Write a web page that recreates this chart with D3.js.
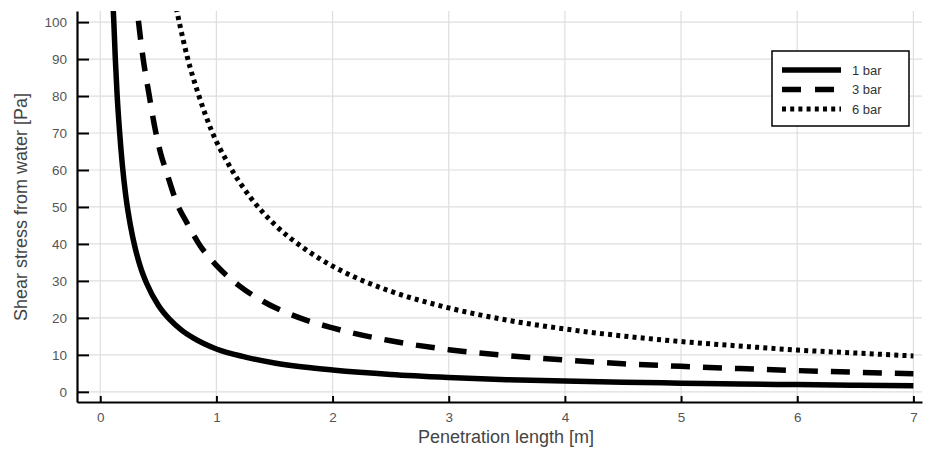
<!DOCTYPE html>
<html>
<head>
<meta charset="utf-8">
<script src="https://cdn.jsdelivr.net/npm/d3@7"></script>
<style>
    body { margin: 0; background: #fff; }
    #chart-area { width: 926px; height: 451px; }
    text { font-family: "Liberation Sans", Arial, Helvetica, sans-serif; }
</style>
</head>
<body>
<div id="chart-area"></div>
<script>

// ---- data ----
const pressures = ["1 bar", "3 bar", "6 bar"];

const length1 = [0.105, 0.117, 0.13, 0.145, 0.165, 0.19, 0.22, 0.26, 0.3, 0.35, 0.4, 0.5, 0.6, 0.7, 0.8, 1.0, 1.25, 1.5, 1.75, 2, 2.5, 3, 3.5, 4, 4.5, 5, 5.5, 6, 6.5, 7];
const stress1 = [108, 100, 90, 80.5, 71, 61.5, 53, 45, 39, 33.4, 29.3, 23.4, 19.5, 16.7, 14.6, 11.6, 9.4, 7.8, 6.7, 5.9, 4.7, 3.9, 3.3, 2.9, 2.6, 2.35, 2.1, 1.95, 1.8, 1.65];

const length3 = [0.3, 0.33, 0.37, 0.42, 0.47, 0.52, 0.57, 0.66, 0.75, 0.85, 1.0, 1.2, 1.4, 1.7, 2, 2.5, 3, 3.5, 4, 4.5, 5, 5.5, 6, 6.5, 7];
const stress3 = [109, 100, 90, 80.5, 71.5, 64.5, 59.5, 51, 45.5, 40, 34.2, 28.6, 24.5, 20.2, 17.3, 13.8, 11.4, 9.8, 8.6, 7.6, 6.9, 6.3, 5.75, 5.3, 4.9];

const length6 = [0.64, 0.68, 0.75, 0.85, 0.96, 1.1, 1.3, 1.5, 1.75, 2, 2.25, 2.5, 3, 3.5, 4, 4.5, 5, 5.5, 6, 6.5, 7];
const stress6 = [106, 100, 90.5, 80, 70.5, 61.8, 52.3, 45.3, 38.9, 34, 30.2, 27.2, 22.7, 19.4, 17, 15.1, 13.6, 12.4, 11.3, 10.5, 9.7];

const xTicks = [0, 1, 2, 3, 4, 5, 6, 7];
const yTicks = [0, 10, 20, 30, 40, 50, 60, 70, 80, 90, 100];

// line styles per series
const seriesStyle = [
    {width: 5.5, dash: null},
    {width: 5.5, dash: "19,13"},
    {width: 5, dash: "4,4.2"}
];

/* * * * * * * * * * * * * *
*       ShearStressVis     *
* * * * * * * * * * * * * */

class ShearStressVis {
    constructor(parentElement) {
        this.parentElement = parentElement;
        this.series = [
            length1.map((d, i) => ({x: d, y: stress1[i]})),
            length3.map((d, i) => ({x: d, y: stress3[i]})),
            length6.map((d, i) => ({x: d, y: stress6[i]}))
        ];
        this.initVis();
    }

    initVis() {
        let vis = this;

        vis.width = 926;
        vis.height = 451;
        vis.plot = {left: 77, right: 922, top: 11, bottom: 402};

        vis.svg = d3.select("#" + vis.parentElement).append("svg")
            .attr("width", vis.width)
            .attr("height", vis.height);

        // scales
        vis.x = d3.scaleLinear()
            .domain([-0.2, 7.074])
            .range([vis.plot.left, vis.plot.right]);

        vis.y = d3.scaleLinear()
            .domain([-2.75, 103])
            .range([vis.plot.bottom, vis.plot.top]);

        // grid
        vis.svg.append("g").selectAll("line.vgrid")
            .data(xTicks)
            .enter().append("line")
            .attr("x1", d => vis.x(d)).attr("x2", d => vis.x(d))
            .attr("y1", vis.plot.top).attr("y2", vis.plot.bottom)
            .attr("stroke", "#dedede")
            .attr("stroke-width", 1.2);

        vis.svg.append("g").selectAll("line.hgrid")
            .data(yTicks)
            .enter().append("line")
            .attr("x1", vis.plot.left).attr("x2", vis.plot.right)
            .attr("y1", d => vis.y(d)).attr("y2", d => vis.y(d))
            .attr("stroke", "#dedede")
            .attr("stroke-width", 1.2);

        // clip curves to plot area
        vis.svg.append("clipPath")
            .attr("id", "plot-clip")
            .append("rect")
            .attr("x", vis.plot.left)
            .attr("y", vis.plot.top)
            .attr("width", vis.plot.right - vis.plot.left)
            .attr("height", vis.plot.bottom - vis.plot.top);

        vis.line = d3.line()
            .x(d => vis.x(d.x))
            .y(d => vis.y(d.y))
            .curve(d3.curveMonotoneX);

        vis.svg.append("g")
            .attr("clip-path", "url(#plot-clip)")
            .selectAll("path")
            .data(vis.series)
            .enter().append("path")
            .attr("d", vis.line)
            .attr("fill", "none")
            .attr("stroke", "#000")
            .attr("stroke-width", (d, i) => seriesStyle[i].width)
            .attr("stroke-dasharray", (d, i) => seriesStyle[i].dash);

        // axes
        let xAxis = d3.axisBottom(vis.x)
            .tickValues(xTicks)
            .tickSize(-6)
            .tickSizeOuter(0)
            .tickPadding(10);

        let yAxis = d3.axisLeft(vis.y)
            .tickValues(yTicks)
            .tickSize(-12)
            .tickSizeOuter(0)
            .tickPadding(10);

        let gx = vis.svg.append("g")
            .attr("transform", `translate(0, ${vis.plot.bottom})`)
            .call(xAxis);

        let gy = vis.svg.append("g")
            .attr("transform", `translate(${vis.plot.left}, 0)`)
            .call(yAxis);

        [gx, gy].forEach(g => {
            g.select(".domain").attr("stroke", "#000").attr("stroke-width", 2.2);
            g.selectAll(".tick line").attr("stroke", "#000").attr("stroke-width", 2);
            g.selectAll(".tick text")
                .attr("fill", "#555")
                .style("font-size", "13.5px")
                .style("font-family", "'Liberation Sans', Arial, sans-serif");
        });

        // axis titles
        vis.svg.append("text")
            .attr("x", 506)
            .attr("y", 443)
            .attr("text-anchor", "middle")
            .attr("fill", "#444")
            .style("font-size", "18px")
            .text("Penetration length [m]");

        vis.svg.append("text")
            .attr("transform", "translate(27, 207) rotate(-90)")
            .attr("text-anchor", "middle")
            .attr("fill", "#444")
            .style("font-size", "18px")
            .text("Shear stress from water [Pa]");

        // legend
        vis.legend = vis.svg.append("g")
            .attr("transform", "translate(772, 51)");

        vis.legend.append("rect")
            .attr("width", 137)
            .attr("height", 75)
            .attr("fill", "#fff")
            .attr("stroke", "#000")
            .attr("stroke-width", 1.5);

        vis.legend.selectAll("line")
            .data(pressures)
            .enter().append("line")
            .attr("x1", 10).attr("x2", 69)
            .attr("y1", (d, i) => 19 + i * 19.5)
            .attr("y2", (d, i) => 19 + i * 19.5)
            .attr("stroke", "#000")
            .attr("stroke-width", (d, i) => seriesStyle[i].width)
            .attr("stroke-dasharray", (d, i) => i === 1 ? "19,14" : seriesStyle[i].dash);

        vis.legend.selectAll("text")
            .data(pressures)
            .enter().append("text")
            .attr("x", 80)
            .attr("y", (d, i) => 23.5 + i * 19.5)
            .attr("fill", "#333")
            .style("font-size", "13px")
            .text(d => d);
    }
}

new ShearStressVis("chart-area");

</script>
</body>
</html>
